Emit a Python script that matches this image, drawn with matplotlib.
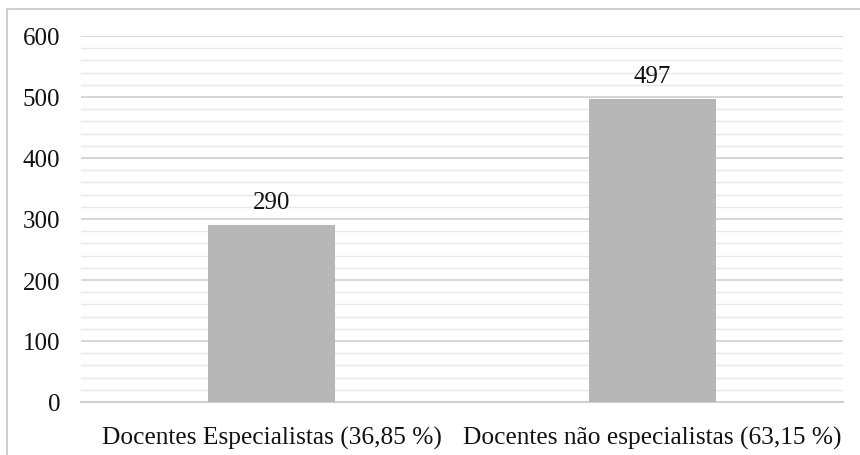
import matplotlib.pyplot as plt
from matplotlib.patches import Rectangle
from matplotlib.ticker import MultipleLocator

categories = ["Docentes Especialistas (36,85 %)", "Docentes não especialistas (63,15 %)"]
values = [290, 497]

plt.rcParams["font.family"] = ["Liberation Serif", "DejaVu Serif"]

fig = plt.figure(figsize=(8.6, 4.56), dpi=100)
ax = fig.add_axes([81 / 860, 1 - 403 / 456, (843 - 81) / 860, (403 - 37) / 456])

# outer border (only top/left visible in the reference)
fig.patches.append(Rectangle((7 / 860, -0.1), 1.2, 1 - 10 / 456 + 0.1,
                             transform=fig.transFigure, fill=False,
                             edgecolor="#d0d0d0", linewidth=1.5))

x = range(len(categories))
bars = ax.bar(x, values, width=0.333, color="#b7b7b7", zorder=3)

for b, v in zip(bars, values):
    ax.text(b.get_x() + b.get_width() / 2, v + 20, str(v),
            ha="center", va="bottom", fontsize=18, color="#111111")

ax.set_xlim(-0.5, 1.5)
ax.set_ylim(0, 600)
ax.yaxis.set_major_locator(MultipleLocator(100))
ax.yaxis.set_minor_locator(MultipleLocator(20))
ax.grid(axis="y", which="major", color="#d0d0d0", linewidth=1.2, zorder=0)
ax.grid(axis="y", which="minor", color="#e8e8e8", linewidth=1.0, zorder=0)

ax.set_xticks(list(x))
ax.set_xticklabels(categories, fontsize=18.3)
ax.tick_params(axis="y", which="both", length=0, labelsize=18, colors="#111111", pad=15)
ax.tick_params(axis="x", which="both", length=0, colors="#111111", pad=17)

for side in ["top", "right", "left"]:
    ax.spines[side].set_visible(False)
ax.spines["bottom"].set_color("#d0d0d0")
ax.spines["bottom"].set_linewidth(1.5)

fig.savefig("out.png", dpi=100)
